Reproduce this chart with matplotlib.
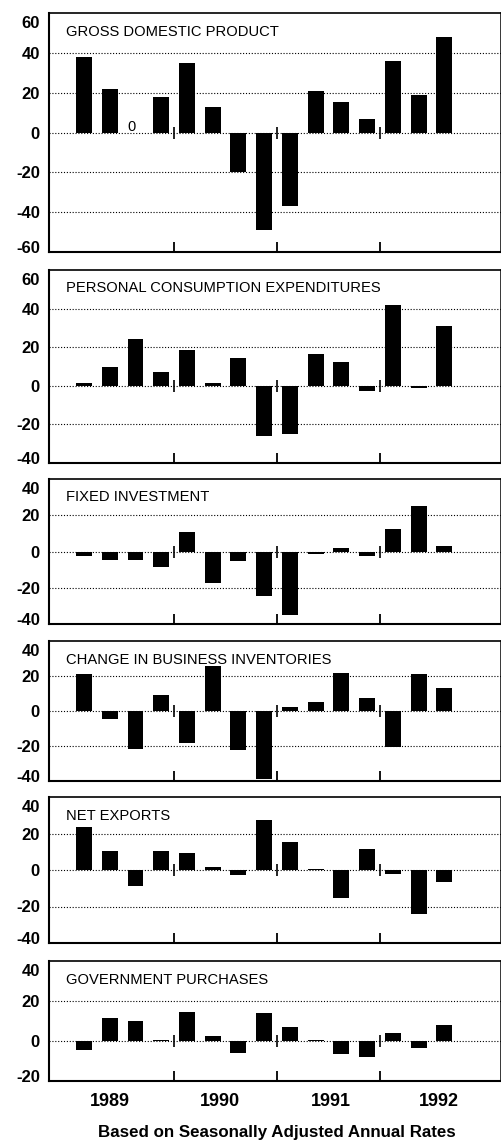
import numpy as np
import matplotlib
matplotlib.use("Agg")
import matplotlib.pyplot as plt
from matplotlib.transforms import ScaledTranslation

# quarters 1989Q1 .. 1992Q3
quarters = np.arange(15)
years = ["1989", "1990", "1991", "1992"]
year_label_x = [1.0, 5.3, 9.6, 13.8]
year_breaks = [3.5, 7.5, 11.5]

titles = [
    "GROSS DOMESTIC PRODUCT",
    "PERSONAL CONSUMPTION EXPENDITURES",
    "FIXED INVESTMENT",
    "CHANGE IN BUSINESS INVENTORIES",
    "NET EXPORTS",
    "GOVERNMENT PURCHASES",
]

gdp = [38, 22, 0, 18, 35, 13, -20, -49, -37, 21, 15.5, 7, 36, 19, 48]
pce = [1.5, 9.5, 24, 7, 18.5, 1.5, 14.5, -26, -25, 16.5, 12.5, -2.5, 42, -1, 31]
fixed_inv = [-2.5, -4.5, -4.7, -8.5, 11, -17.5, -5.5, -24.5, -35, -1.5, 1.8, -2.5, 12.5, 25, 3.3]
inventories = [21, -4.6, -21.5, 9, -18.3, 26, -22.3, -39, 2.3, 5, 21.5, 7.4, -20.5, 21, 13.3]
net_exports = [23.5, 10.5, -8.5, 10.5, 9.2, 1.7, -3, 27.5, 15.3, 0.6, -15.5, 11.7, -2, -24, -6.5]
gov_purchases = [-4.7, 11.7, 10, 0.7, 14.7, 2.5, -5.8, 14, 6.8, 0.7, -6.4, -8.1, 4.2, -3.7, 7.8]

series = [gdp, pce, fixed_inv, inventories, net_exports, gov_purchases]
ylims = [(-60, 60), (-40, 60), (-40, 40), (-40, 40), (-40, 40), (-20, 40)]

# panel extents in pixels (top, bottom) on a 502 x 1144 canvas
W, H = 502, 1144
panel_px = [(13, 252), (270, 463), (479, 624), (641, 781), (797, 943), (961, 1081)]
left_px, right_px = 49, 501

fig = plt.figure(figsize=(W / 100, H / 100), dpi=100)

sans = ["Liberation Sans", "DejaVu Sans"]
tick_font = dict(family=sans, weight="bold", size=12)
title_font = dict(family=["Liberation Sans Narrow"] + sans, size=10.6)

for title, vals, (y0, y1), (top, bottom) in zip(titles, series, ylims, panel_px):
    ax = fig.add_axes([left_px / W, 1 - bottom / H,
                       (right_px - left_px) / W, (bottom - top) / H])
    ax.bar(quarters, vals, width=0.62, color="black", zorder=3)

    # zero values get a small "0" marker like the original
    for q, v in zip(quarters, vals):
        if v == 0:
            ax.text(q - 0.15, 0.7, "0", ha="center", va="baseline",
                    family=sans, size=10.5, zorder=4)

    ax.set_xlim(-1.36, 16.2)
    ax.set_ylim(y0, y1)
    yt = np.arange(y0, y1 + 1, 20)
    ax.set_yticks(yt)
    ax.set_yticklabels([str(int(t)) for t in yt], **tick_font)
    ax.tick_params(axis="y", length=0, pad=6.5)

    # the printed labels sit a little inside the frame at top and bottom
    labels = ax.get_yticklabels()
    nudges = [0] * len(labels)
    nudges[-1] = -9
    nudges[0] = 5
    for lab, dy in zip(labels, nudges):
        lab.set_transform(lab.get_transform() +
                          ScaledTranslation(0, dy / 100, fig.dpi_scale_trans))

    for g in yt[1:-1]:
        ax.axhline(g, color="black", lw=0.8, ls=(0, (1, 1.6)), zorder=1)

    # year separators: inward bottom ticks and small marks on the zero line
    ax.set_xticks(year_breaks)
    ax.set_xticklabels([])
    ax.tick_params(axis="x", direction="in", length=7, width=1.3, color="black")
    ax.plot(year_breaks, [0] * len(year_breaks), ls="none", marker="|",
            ms=8, mew=1.2, color="black", zorder=4)

    for side in ["left", "bottom"]:
        ax.spines[side].set_linewidth(1.5)
    ax.spines["top"].set_linewidth(1.2)
    ax.spines["right"].set_linewidth(1.1)

    ax.annotate(title, xy=(0, 1), xycoords="axes fraction",
                xytext=(17 * 0.72, -11.5 * 0.72), textcoords="offset points",
                ha="left", va="top", **title_font)

# year labels under the last panel
for x, yr in zip(year_label_x, years):
    ax.annotate(yr, xy=(x, 0), xycoords=("data", "axes fraction"),
                xytext=(0, -21 * 0.72), textcoords="offset points",
                ha="center", va="center", **dict(tick_font, size=13))

fig.text(277 / W, 1 - 1133 / H, "Based on Seasonally Adjusted Annual Rates",
         ha="center", va="center", family=sans, weight="bold", size=12.2)

fig.savefig("out.png", dpi=100)
